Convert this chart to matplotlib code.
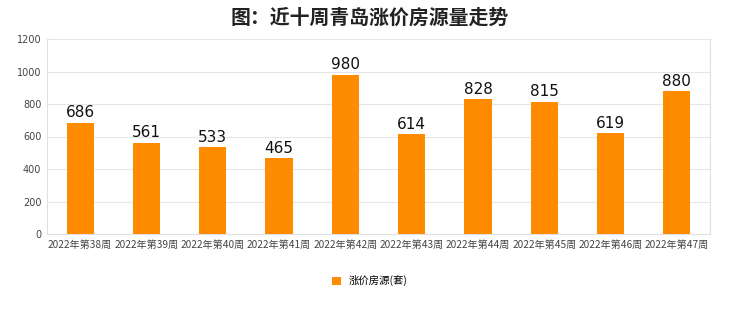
import matplotlib
matplotlib.use("Agg")
import matplotlib.pyplot as plt

plt.rcParams['font.family'] = ['Noto Sans CJK SC', 'DejaVu Sans']

categories = ["2022年第38周", "2022年第39周", "2022年第40周", "2022年第41周", "2022年第42周",
              "2022年第43周", "2022年第44周", "2022年第45周", "2022年第46周", "2022年第47周"]
values = [686, 561, 533, 465, 980, 614, 828, 815, 619, 880]
yticks = [0, 200, 400, 600, 800, 1000, 1200]
series_name = "涨价房源(套)"
title = "图：近十周青岛涨价房源量走势"

fig = plt.figure(figsize=(7.4, 3.12), dpi=100)
ax = fig.add_axes([0.0635, 0.25, 0.896, 0.625])
x = range(len(categories))
bars = ax.bar(x, values, width=0.41, color="#FF8C00", label=series_name, zorder=3)
for xi, v in zip(x, values):
    ax.text(xi, v + 15, str(v), ha="center", va="bottom", fontsize=11, family=['DejaVu Sans'], color="#111111")
ax.set_xlim(-0.5, len(categories) - 0.5)
ax.set_ylim(0, 1200)
ax.set_yticks(yticks)
ax.set_yticklabels([str(t) for t in yticks], fontsize=7, color="#444444", family=['DejaVu Sans'])
ax.set_xticks(list(x))
ax.set_xticklabels(categories, fontsize=7.3, color="#444444")
ax.yaxis.grid(True, color="#e6e6e6", linewidth=0.8, zorder=0)
ax.tick_params(axis="both", length=0, pad=4)
for s in ["top"]:
    ax.spines[s].set_visible(False)
for s in ["left", "right", "bottom"]:
    ax.spines[s].set_color("#e0e0e0")
    ax.spines[s].set_linewidth(0.8)
fig.text(0.5, 0.945, title, ha="center", va="center", fontsize=14.3, fontweight="bold", color="#222222")
fig.legend(handles=[bars], labels=[series_name], loc="center", bbox_to_anchor=(0.5, 0.1),
           frameon=False, fontsize=7.5, handlelength=0.8, handleheight=0.8, handletextpad=0.8)
fig.savefig("out.png", dpi=100, facecolor="white")
